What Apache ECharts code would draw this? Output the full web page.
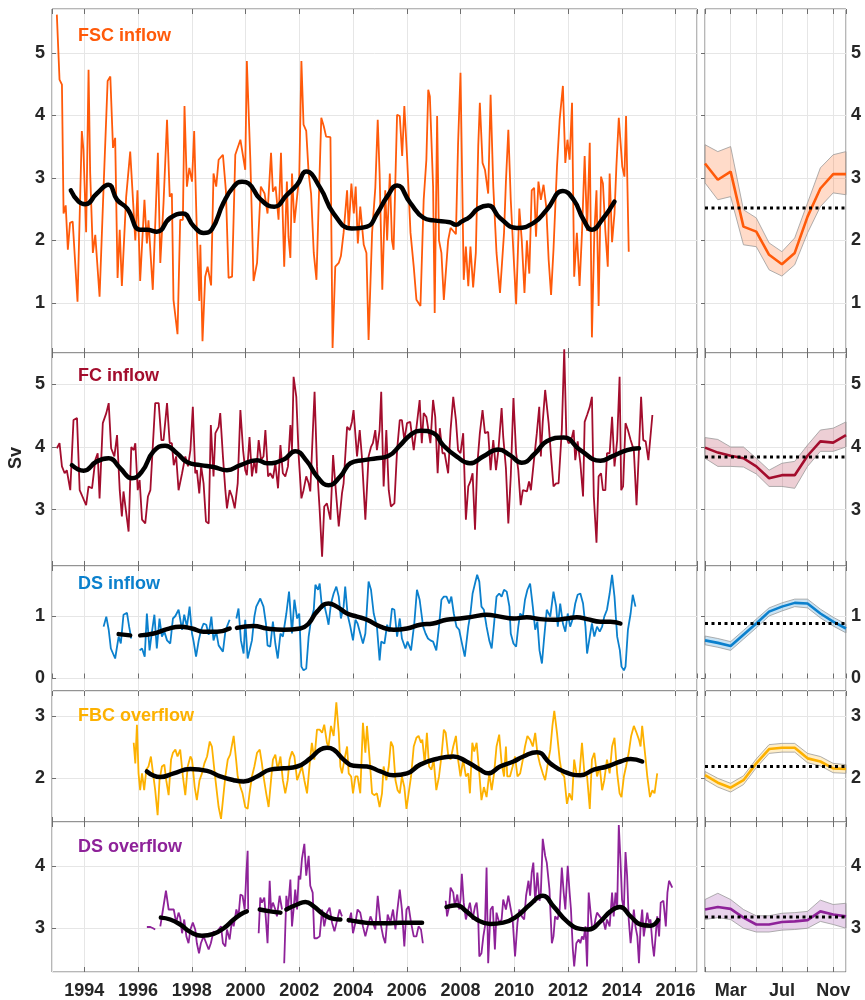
<!DOCTYPE html>
<html><head><meta charset="utf-8">
<script src="https://cdn.jsdelivr.net/npm/echarts@6/dist/echarts.min.js"></script>
<style>html,body{margin:0;padding:0;background:#fff}#c{width:865px;height:1000px}</style>
</head><body><div id="c"></div>
<script>
// ---------------- DATA ----------------
const monthNames = ['Jan','Feb','Mar','Apr','May','Jun','Jul','Aug','Sep','Oct','Nov','Dec'];
const monthIdx = [0,1,2,3,4,5,6,7,8,9,10,11];
const panelNames = ['FSC inflow','FC inflow','DS inflow','FBC overflow','DS overflow'];

const fscInflow = [[1992.98,5.61],[1993.08,4.57],[1993.17,4.49],[1993.23,2.43],[1993.31,2.56],[1993.39,1.85],[1993.47,2.28],[1993.57,2.3],[1993.75,1.02],[1993.91,3.75],[1993.97,3.45],[1994.07,2.13],[1994.16,4.73],[1994.22,3.08],[1994.32,1.8],[1994.41,2.09],[1994.57,1.1],[1994.72,2.86],[1994.87,4.55],[1994.97,4.62],[1995.07,3.48],[1995.15,3.64],[1995.24,1.4],[1995.32,2.17],[1995.4,1.27],[1995.56,2.7],[1995.71,3.42],[1995.9,2.0],[1995.98,2.8],[1996.08,1.35],[1996.24,2.65],[1996.33,1.95],[1996.39,2.32],[1996.55,1.21],[1996.74,3.4],[1996.83,1.64],[1996.95,2.6],[1997.08,3.93],[1997.18,2.7],[1997.26,2.75],[1997.32,1.05],[1997.47,0.5],[1997.57,2.33],[1997.67,2.33],[1997.73,4.15],[1997.82,2.86],[1997.91,3.16],[1998.01,2.94],[1998.09,3.75],[1998.19,2.12],[1998.28,1.03],[1998.32,1.93],[1998.4,0.39],[1998.5,1.42],[1998.59,1.58],[1998.72,1.28],[1998.81,3.07],[1998.91,2.86],[1999.0,3.29],[1999.16,3.37],[1999.27,2.8],[1999.37,1.4],[1999.5,1.42],[1999.62,3.37],[1999.81,3.61],[1999.99,3.13],[2000.05,4.87],[2000.18,3.29],[2000.3,1.35],[2000.43,1.64],[2000.57,2.86],[2000.71,2.75],[2000.82,2.43],[2000.95,3.4],[2001.02,2.78],[2001.12,2.86],[2001.23,2.33],[2001.32,3.4],[2001.44,1.58],[2001.54,2.94],[2001.6,2.06],[2001.67,1.72],[2001.73,3.07],[2001.82,2.28],[2001.92,2.7],[2002.0,3.02],[2002.08,4.87],[2002.16,3.85],[2002.26,3.75],[2002.35,3.07],[2002.44,2.75],[2002.54,1.8],[2002.64,1.37],[2002.72,2.54],[2002.82,3.96],[2002.91,3.83],[2003.0,3.66],[2003.16,3.65],[2003.24,0.28],[2003.34,1.58],[2003.47,1.64],[2003.55,1.75],[2003.65,2.12],[2003.78,2.8],[2003.84,2.17],[2003.94,2.91],[2004.03,2.43],[2004.1,2.86],[2004.18,1.95],[2004.27,2.54],[2004.4,1.93],[2004.5,1.8],[2004.58,0.41],[2004.71,2.12],[2004.83,2.84],[2004.92,3.93],[2004.99,3.07],[2005.09,1.21],[2005.2,2.8],[2005.27,2.0],[2005.37,3.07],[2005.45,2.0],[2005.51,1.85],[2005.64,4.01],[2005.74,3.99],[2005.83,3.35],[2005.91,4.15],[2006.01,3.35],[2006.14,2.12],[2006.26,1.58],[2006.36,1.05],[2006.51,0.95],[2006.63,2.65],[2006.73,3.29],[2006.8,4.41],[2006.86,4.3],[2006.98,2.86],[2007.04,0.84],[2007.13,3.99],[2007.2,2.0],[2007.29,1.8],[2007.38,1.05],[2007.54,2.0],[2007.63,2.2],[2007.73,2.15],[2007.83,2.1],[2007.91,3.55],[2008.0,4.68],[2008.12,1.37],[2008.2,1.9],[2008.29,1.27],[2008.37,1.9],[2008.47,1.25],[2008.57,1.8],[2008.66,3.51],[2008.72,4.2],[2008.82,3.24],[2008.91,3.13],[2009.03,2.75],[2009.12,4.33],[2009.22,2.86],[2009.34,1.8],[2009.47,1.16],[2009.62,2.12],[2009.69,2.94],[2009.78,3.77],[2009.87,2.65],[2009.97,1.8],[2010.07,0.98],[2010.19,2.51],[2010.28,2.0],[2010.38,1.16],[2010.47,2.0],[2010.56,1.47],[2010.65,2.8],[2010.74,2.84],[2010.81,2.06],[2010.9,2.94],[2010.99,2.65],[2011.09,2.89],[2011.19,2.54],[2011.28,1.69],[2011.37,1.13],[2011.46,1.85],[2011.59,3.18],[2011.69,3.93],[2011.81,4.47],[2011.9,3.24],[2011.98,3.61],[2012.06,3.29],[2012.15,4.2],[2012.23,1.42],[2012.33,2.12],[2012.43,1.27],[2012.52,2.12],[2012.62,3.35],[2012.71,2.15],[2012.81,3.56],[2012.89,0.45],[2012.98,2.12],[2013.06,2.8],[2013.14,0.95],[2013.23,3.02],[2013.3,2.91],[2013.39,2.15],[2013.48,1.58],[2013.55,3.07],[2013.64,1.97],[2013.73,2.43],[2013.8,3.18],[2013.89,3.96],[2014.02,3.18],[2014.1,3.02],[2014.16,3.99],[2014.26,1.82]];
const fscSmooth = [[1993.5,2.8],[1993.79,2.62],[1994.04,2.58],[1994.47,2.75],[1994.9,2.89],[1995.22,2.65],[1995.6,2.51],[1996.08,2.17],[1996.33,2.17],[1996.7,2.14],[1997.2,2.36],[1997.67,2.43],[1998.07,2.23],[1998.44,2.12],[1998.75,2.18],[1999.18,2.6],[1999.56,2.86],[1999.87,2.94],[2000.12,2.91],[2000.55,2.66],[2001.07,2.54],[2001.54,2.73],[2001.92,2.89],[2002.26,3.1],[2002.78,2.84],[2003.28,2.43],[2003.96,2.19],[2004.52,2.22],[2004.9,2.43],[2005.27,2.7],[2005.64,2.88],[2006.13,2.6],[2006.63,2.36],[2007.0,2.32],[2007.6,2.29],[2007.83,2.25],[2008.04,2.3],[2008.35,2.38],[2008.66,2.51],[2009.03,2.56],[2009.47,2.36],[2010.1,2.2],[2010.72,2.28],[2011.21,2.49],[2011.81,2.79],[2012.21,2.65],[2012.58,2.33],[2012.89,2.17],[2013.27,2.33],[2013.73,2.62]];

const fcInflow = [[1992.98,3.98],[1993.08,4.06],[1993.17,3.69],[1993.27,3.58],[1993.35,3.63],[1993.48,3.31],[1993.6,4.43],[1993.73,4.46],[1993.83,3.31],[1993.91,3.23],[1994.07,3.07],[1994.16,3.37],[1994.29,3.34],[1994.41,3.79],[1994.5,3.9],[1994.57,3.18],[1994.69,4.38],[1994.82,4.54],[1994.91,4.7],[1995.0,3.98],[1995.12,3.85],[1995.22,4.19],[1995.32,3.31],[1995.4,2.89],[1995.46,3.29],[1995.65,2.65],[1995.75,4.0],[1995.84,3.95],[1995.9,4.06],[1995.99,3.31],[1996.06,3.47],[1996.15,2.84],[1996.27,2.78],[1996.37,3.21],[1996.46,3.31],[1996.64,4.7],[1996.77,4.7],[1996.87,4.11],[1996.95,4.11],[1997.08,4.7],[1997.18,4.06],[1997.26,4.06],[1997.33,3.71],[1997.42,3.85],[1997.51,3.31],[1997.64,3.58],[1997.76,3.85],[1997.86,3.69],[1997.95,3.95],[1998.04,4.64],[1998.13,3.58],[1998.19,3.63],[1998.28,3.26],[1998.35,3.69],[1998.44,3.42],[1998.53,2.81],[1998.63,2.78],[1998.71,4.35],[1998.81,3.53],[1998.88,4.22],[1999.0,4.32],[1999.06,4.54],[1999.16,3.85],[1999.25,3.31],[1999.31,3.02],[1999.41,3.31],[1999.5,3.21],[1999.6,3.02],[1999.71,3.42],[1999.81,4.59],[1999.91,3.95],[1999.99,3.63],[2000.05,3.55],[2000.15,4.16],[2000.24,3.53],[2000.33,3.79],[2000.4,3.58],[2000.49,4.11],[2000.58,3.79],[2000.67,3.85],[2000.74,4.27],[2000.84,3.53],[2000.92,3.58],[2001.02,3.5],[2001.11,3.74],[2001.21,3.34],[2001.3,4.03],[2001.39,3.58],[2001.48,3.53],[2001.58,3.69],[2001.67,4.35],[2001.73,3.95],[2001.79,5.12],[2001.89,4.8],[2001.98,3.85],[2002.08,3.18],[2002.16,3.31],[2002.26,3.53],[2002.35,3.42],[2002.41,3.29],[2002.5,4.19],[2002.57,4.88],[2002.66,3.69],[2002.76,2.99],[2002.85,2.25],[2002.93,3.05],[2003.03,3.1],[2003.16,2.84],[2003.26,3.87],[2003.34,3.42],[2003.47,2.73],[2003.59,3.26],[2003.65,3.42],[2003.78,4.32],[2003.88,4.27],[2003.96,4.4],[2004.02,4.59],[2004.15,3.85],[2004.25,4.27],[2004.33,3.85],[2004.46,2.84],[2004.58,3.85],[2004.67,4.0],[2004.74,4.06],[2004.83,4.27],[2004.89,3.95],[2004.99,4.27],[2005.05,4.88],[2005.14,3.37],[2005.24,4.27],[2005.33,3.31],[2005.41,3.05],[2005.54,3.1],[2005.64,3.95],[2005.74,4.43],[2005.82,4.43],[2005.91,4.11],[2006.01,4.38],[2006.13,4.4],[2006.26,3.95],[2006.38,4.38],[2006.48,4.75],[2006.56,4.06],[2006.63,4.54],[2006.73,4.48],[2006.88,4.06],[2006.98,4.75],[2007.06,4.48],[2007.15,3.58],[2007.23,4.3],[2007.33,3.9],[2007.41,3.9],[2007.54,3.58],[2007.63,4.27],[2007.73,4.8],[2007.83,4.43],[2007.91,3.95],[2008.0,3.9],[2008.1,4.22],[2008.2,2.84],[2008.29,3.37],[2008.37,3.45],[2008.45,3.58],[2008.54,2.68],[2008.62,3.69],[2008.72,4.22],[2008.82,4.59],[2008.91,4.22],[2009.03,4.24],[2009.12,3.63],[2009.22,4.11],[2009.32,3.63],[2009.41,3.95],[2009.53,4.62],[2009.59,4.16],[2009.69,3.66],[2009.78,2.78],[2009.87,3.53],[2009.97,4.78],[2010.07,3.9],[2010.15,3.63],[2010.24,3.07],[2010.32,3.31],[2010.47,3.29],[2010.55,3.45],[2010.62,3.31],[2010.71,3.69],[2010.84,4.22],[2010.93,4.64],[2010.99,3.85],[2011.06,4.4],[2011.15,4.91],[2011.28,4.38],[2011.37,3.85],[2011.46,3.37],[2011.56,3.42],[2011.65,3.42],[2011.77,4.27],[2011.86,5.56],[2011.94,4.16],[2012.02,4.06],[2012.11,4.09],[2012.21,4.27],[2012.27,3.79],[2012.36,4.09],[2012.46,3.74],[2012.56,3.21],[2012.62,4.4],[2012.71,4.51],[2012.81,4.64],[2012.89,4.8],[2012.96,3.21],[2013.06,2.47],[2013.14,3.53],[2013.23,3.58],[2013.3,3.31],[2013.39,3.31],[2013.45,3.9],[2013.55,3.9],[2013.64,4.48],[2013.73,3.69],[2013.83,4.11],[2013.92,5.12],[2013.98,3.31],[2014.05,3.37],[2014.14,4.38],[2014.23,4.27],[2014.33,4.11],[2014.45,3.95],[2014.55,3.07],[2014.64,3.95],[2014.72,4.8],[2014.8,4.11],[2014.89,4.09],[2014.99,3.79],[2015.14,4.51]];
const fcSmooth = [[1993.54,3.71],[1993.98,3.62],[1994.47,3.77],[1994.91,3.82],[1995.34,3.66],[1995.77,3.5],[1996.15,3.61],[1996.58,3.93],[1997.01,4.02],[1997.45,3.9],[1997.82,3.76],[1998.32,3.71],[1998.81,3.68],[1999.31,3.63],[1999.81,3.71],[2000.43,3.79],[2000.8,3.74],[2001.42,3.8],[2001.85,3.93],[2002.29,3.77],[2002.66,3.53],[2003.09,3.39],[2003.53,3.53],[2003.9,3.74],[2004.4,3.79],[2004.89,3.82],[2005.33,3.86],[2005.76,4.03],[2006.13,4.19],[2006.5,4.26],[2007.0,4.22],[2007.35,4.03],[2007.85,3.85],[2008.35,3.74],[2008.85,3.85],[2009.41,3.96],[2009.84,3.87],[2010.28,3.75],[2010.78,3.9],[2011.21,4.09],[2011.84,4.15],[2012.46,3.95],[2013.21,3.78],[2013.64,3.85],[2014.2,3.95],[2014.64,3.98]];

const dsInflow = [[1994.72,0.83],[1994.82,0.99],[1994.91,0.78],[1994.99,0.48],[1995.15,0.32],[1995.28,0.67],[1995.36,0.56],[1995.46,1.02],[1995.59,1.05],[1995.67,0.83],[1995.75,0.64],[1995.9,null],[1996.06,0.45],[1996.15,0.48],[1996.25,0.35],[1996.33,1.04],[1996.43,0.45],[1996.52,0.75],[1996.61,1.02],[1996.7,0.48],[1996.8,0.96],[1996.89,0.67],[1996.98,0.75],[1997.08,0.61],[1997.2,0.56],[1997.3,0.96],[1997.39,1.0],[1997.51,1.1],[1997.64,0.78],[1997.72,1.02],[1997.82,0.83],[1997.92,1.15],[1998.01,0.72],[1998.07,0.59],[1998.16,0.35],[1998.26,0.61],[1998.35,0.78],[1998.44,0.88],[1998.54,0.86],[1998.63,0.7],[1998.73,0.99],[1998.81,0.61],[1998.91,0.75],[1999.0,0.53],[1999.06,0.56],[1999.16,0.43],[1999.25,0.75],[1999.31,0.83],[1999.41,0.94],[1999.55,null],[1999.66,0.96],[1999.74,1.12],[1999.83,0.61],[1999.93,0.4],[1999.99,0.94],[2000.08,0.32],[2000.15,0.35],[2000.24,0.61],[2000.33,0.99],[2000.4,1.15],[2000.55,1.28],[2000.67,1.15],[2000.76,0.88],[2000.82,0.53],[2000.92,0.51],[2001.02,0.91],[2001.11,0.56],[2001.2,0.32],[2001.3,0.72],[2001.39,0.67],[2001.52,1.04],[2001.62,1.39],[2001.73,0.72],[2001.82,1.26],[2001.92,0.96],[2002.0,1.04],[2002.08,0.19],[2002.16,0.13],[2002.26,0.16],[2002.35,0.67],[2002.44,0.94],[2002.54,1.1],[2002.6,1.5],[2002.7,1.42],[2002.76,1.52],[2002.85,1.12],[2002.93,1.18],[2003.03,0.99],[2003.09,0.86],[2003.18,1.2],[2003.28,1.36],[2003.38,1.47],[2003.47,1.31],[2003.55,0.96],[2003.65,1.15],[2003.71,1.47],[2003.8,1.02],[2003.9,0.83],[2004.0,0.61],[2004.09,0.94],[2004.17,0.88],[2004.27,0.72],[2004.37,0.56],[2004.46,0.72],[2004.58,1.55],[2004.67,1.42],[2004.77,1.04],[2004.89,0.83],[2004.99,0.29],[2005.05,0.59],[2005.17,0.56],[2005.27,0.86],[2005.36,0.75],[2005.45,1.12],[2005.54,1.1],[2005.64,0.67],[2005.74,0.96],[2005.82,0.64],[2005.95,0.48],[2006.03,0.59],[2006.16,0.45],[2006.28,0.88],[2006.38,1.42],[2006.48,1.26],[2006.61,0.83],[2006.7,0.72],[2006.79,0.64],[2006.88,0.61],[2006.98,0.59],[2007.1,0.45],[2007.2,0.83],[2007.29,1.26],[2007.38,1.31],[2007.48,1.31],[2007.58,1.2],[2007.66,1.31],[2007.75,1.04],[2007.85,0.83],[2007.95,0.78],[2008.04,0.59],[2008.16,0.35],[2008.29,0.83],[2008.37,1.04],[2008.45,1.36],[2008.54,1.52],[2008.62,1.66],[2008.7,1.55],[2008.78,1.15],[2008.87,1.1],[2008.97,0.83],[2009.07,0.61],[2009.16,0.48],[2009.25,0.88],[2009.34,1.31],[2009.44,1.36],[2009.53,1.31],[2009.62,1.42],[2009.72,1.39],[2009.82,1.15],[2009.87,0.72],[2009.97,0.56],[2010.07,0.51],[2010.15,0.83],[2010.22,1.04],[2010.32,0.99],[2010.4,1.26],[2010.49,1.42],[2010.59,1.52],[2010.69,1.15],[2010.78,0.78],[2010.86,0.91],[2010.94,0.45],[2011.03,0.24],[2011.11,0.64],[2011.21,1.1],[2011.34,0.99],[2011.46,1.39],[2011.56,1.15],[2011.62,0.83],[2011.71,1.2],[2011.81,0.88],[2011.9,0.75],[2011.99,1.04],[2012.08,0.83],[2012.18,0.96],[2012.27,1.2],[2012.36,1.34],[2012.46,1.36],[2012.56,1.2],[2012.65,0.83],[2012.71,0.4],[2012.81,0.67],[2012.89,0.88],[2012.98,0.67],[2013.08,0.83],[2013.18,0.75],[2013.27,0.83],[2013.35,0.99],[2013.45,1.1],[2013.55,1.36],[2013.64,1.66],[2013.73,1.31],[2013.83,0.67],[2013.93,0.45],[2013.99,0.19],[2014.08,0.13],[2014.14,0.19],[2014.23,0.78],[2014.33,1.04],[2014.41,1.34],[2014.51,1.15]];
const dsInflowSmooth = [[1995.28,0.71],[1995.71,0.69],[1995.9,null],[1996.08,0.69],[1996.58,0.72],[1997.08,0.79],[1997.57,0.83],[1998.01,0.8],[1998.44,0.75],[1998.94,0.75],[1999.41,0.8],[1999.55,null],[1999.68,0.81],[2000.3,0.84],[2000.8,0.8],[2001.42,0.78],[2002.04,0.8],[2002.35,0.88],[2002.66,1.07],[2003.09,1.2],[2003.4,1.15],[2003.78,1.04],[2004.15,0.99],[2004.52,0.94],[2005.02,0.83],[2005.51,0.78],[2006.01,0.8],[2006.5,0.86],[2006.98,0.88],[2007.48,0.94],[2007.98,0.96],[2008.47,0.99],[2008.97,1.02],[2009.47,0.99],[2009.97,0.96],[2010.47,0.98],[2010.96,0.95],[2011.46,0.94],[2011.96,0.96],[2012.33,0.98],[2012.71,0.95],[2013.21,0.91],[2013.58,0.91],[2013.95,0.88]];

const fbcOverflow = [[1995.84,2.57],[1995.9,2.24],[1995.96,2.86],[1996.02,2.08],[1996.08,1.81],[1996.15,2.08],[1996.23,1.81],[1996.31,2.14],[1996.39,2.19],[1996.48,2.35],[1996.56,2.08],[1996.64,1.81],[1996.73,1.41],[1996.8,1.97],[1996.89,2.19],[1996.98,2.22],[1997.05,1.97],[1997.14,1.73],[1997.23,2.3],[1997.3,2.41],[1997.39,2.46],[1997.47,2.35],[1997.57,2.46],[1997.67,2.03],[1997.76,1.73],[1997.85,2.19],[1997.95,2.35],[1998.01,2.3],[1998.11,1.86],[1998.19,1.65],[1998.29,1.97],[1998.38,2.08],[1998.47,2.24],[1998.57,2.35],[1998.67,2.59],[1998.75,2.51],[1998.84,2.14],[1998.94,1.76],[1999.0,1.54],[1999.09,1.35],[1999.16,1.65],[1999.25,2.03],[1999.34,2.3],[1999.43,2.38],[1999.56,2.68],[1999.65,2.3],[1999.71,2.03],[1999.81,1.86],[1999.89,1.76],[1999.99,1.54],[2000.08,1.51],[2000.15,1.76],[2000.24,2.03],[2000.33,2.19],[2000.43,2.41],[2000.53,2.46],[2000.61,2.24],[2000.67,2.03],[2000.77,1.76],[2000.86,1.54],[2000.95,1.97],[2001.02,2.3],[2001.11,2.38],[2001.2,2.14],[2001.3,2.35],[2001.39,1.97],[2001.48,1.76],[2001.57,1.97],[2001.64,2.3],[2001.73,2.43],[2001.82,2.35],[2001.92,1.97],[2002.01,2.08],[2002.1,2.19],[2002.19,1.97],[2002.29,1.76],[2002.39,2.24],[2002.47,2.57],[2002.56,2.3],[2002.66,2.78],[2002.76,2.78],[2002.85,2.73],[2002.93,2.86],[2003.03,2.57],[2003.09,2.51],[2003.18,2.84],[2003.28,2.68],[2003.38,3.22],[2003.47,2.73],[2003.53,2.19],[2003.59,2.08],[2003.68,2.3],[2003.78,2.51],[2003.84,2.08],[2003.93,2.03],[2004.0,1.76],[2004.09,2.03],[2004.17,2.03],[2004.27,1.76],[2004.37,2.89],[2004.46,2.41],[2004.52,2.84],[2004.62,2.3],[2004.71,1.76],[2004.79,1.73],[2004.89,1.76],[2004.99,1.54],[2005.08,1.76],[2005.14,2.19],[2005.24,1.97],[2005.33,2.19],[2005.41,2.59],[2005.49,2.51],[2005.58,1.97],[2005.66,1.81],[2005.74,1.76],[2005.82,2.03],[2005.91,1.86],[2005.99,1.51],[2006.07,1.76],[2006.16,2.03],[2006.26,2.51],[2006.36,2.65],[2006.44,2.68],[2006.53,2.57],[2006.58,2.62],[2006.67,2.24],[2006.75,2.73],[2006.83,2.19],[2006.92,2.14],[2007.0,2.3],[2007.1,1.81],[2007.2,2.03],[2007.29,2.35],[2007.38,2.78],[2007.45,2.73],[2007.54,2.38],[2007.63,2.3],[2007.73,2.51],[2007.83,2.68],[2007.91,2.3],[2008.0,2.03],[2008.1,2.3],[2008.2,2.03],[2008.29,2.08],[2008.35,1.76],[2008.44,2.57],[2008.51,2.43],[2008.6,2.57],[2008.7,2.08],[2008.78,1.65],[2008.87,1.86],[2008.97,1.7],[2009.07,2.08],[2009.16,1.81],[2009.25,2.08],[2009.34,2.51],[2009.44,2.7],[2009.53,2.24],[2009.62,2.03],[2009.69,2.51],[2009.74,2.03],[2009.84,2.03],[2009.94,2.19],[2010.03,2.35],[2010.12,2.03],[2010.22,2.08],[2010.32,2.3],[2010.4,2.51],[2010.49,2.68],[2010.59,2.62],[2010.69,2.51],[2010.78,2.73],[2010.86,2.41],[2010.96,2.22],[2011.06,2.08],[2011.15,1.97],[2011.25,2.24],[2011.34,2.46],[2011.42,2.84],[2011.49,3.08],[2011.59,2.73],[2011.69,2.3],[2011.77,2.08],[2011.86,2.03],[2011.96,1.59],[2012.05,1.76],[2012.15,1.65],[2012.23,2.3],[2012.33,2.03],[2012.43,2.08],[2012.52,2.57],[2012.61,2.08],[2012.71,2.03],[2012.81,1.51],[2012.89,2.3],[2012.98,2.41],[2013.08,2.03],[2013.18,2.19],[2013.27,1.81],[2013.35,1.97],[2013.45,2.3],[2013.55,2.08],[2013.64,2.51],[2013.73,2.65],[2013.83,2.08],[2013.92,1.76],[2013.99,1.7],[2014.08,2.03],[2014.16,2.19],[2014.26,2.41],[2014.35,2.68],[2014.45,2.84],[2014.55,2.73],[2014.64,2.62],[2014.7,2.51],[2014.76,2.84],[2014.82,2.86],[2014.89,2.3],[2014.95,2.03],[2015.05,1.7],[2015.14,1.81],[2015.22,1.76],[2015.32,2.08]];
const fbcSmooth = [[1996.33,2.11],[1996.83,2.02],[1997.33,2.08],[1997.95,2.15],[1998.57,2.12],[1999.06,2.03],[1999.56,1.97],[1999.93,1.95],[2000.43,2.03],[2000.92,2.14],[2001.42,2.16],[2001.92,2.19],[2002.41,2.32],[2002.78,2.46],[2003.03,2.49],[2003.28,2.46],[2003.65,2.3],[2004.02,2.2],[2004.52,2.19],[2005.02,2.11],[2005.51,2.05],[2006.01,2.08],[2006.5,2.22],[2007.1,2.31],[2007.73,2.35],[2008.22,2.27],[2008.72,2.14],[2009.03,2.08],[2009.47,2.19],[2009.97,2.27],[2010.34,2.35],[2010.84,2.42],[2011.34,2.24],[2011.84,2.11],[2012.46,2.05],[2012.96,2.14],[2013.45,2.19],[2013.95,2.27],[2014.33,2.31],[2014.76,2.27]];

const dsOverflow = [[1996.33,3.02],[1996.46,3.02],[1996.56,3.0],[1996.64,2.98],[1996.74,null],[1996.83,3.03],[1996.93,3.3],[1997.04,3.6],[1997.14,3.3],[1997.23,3.3],[1997.33,3.3],[1997.42,3.09],[1997.51,3.25],[1997.57,3.17],[1997.64,2.92],[1997.72,3.14],[1997.8,2.87],[1997.88,2.76],[1997.95,2.98],[1998.04,3.09],[1998.13,2.98],[1998.19,2.76],[1998.27,2.6],[1998.34,2.76],[1998.44,2.87],[1998.54,2.76],[1998.63,2.66],[1998.71,2.76],[1998.81,2.95],[1998.91,2.92],[1999.0,2.98],[1999.09,3.03],[1999.16,2.76],[1999.25,2.71],[1999.31,2.98],[1999.41,2.82],[1999.5,3.14],[1999.56,3.03],[1999.66,3.3],[1999.74,3.19],[1999.81,3.54],[1999.89,3.52],[1999.97,3.3],[2000.03,3.87],[2000.08,4.24],[2000.1,3.3],[2000.3,null],[2000.49,2.92],[2000.55,3.49],[2000.61,3.41],[2000.7,3.49],[2000.76,3.14],[2000.82,2.76],[2000.9,3.76],[2000.95,3.3],[2001.02,3.41],[2001.11,3.3],[2001.17,3.19],[2001.27,3.52],[2001.36,3.3],[2001.4,null],[2001.44,2.44],[2001.52,3.52],[2001.58,3.3],[2001.67,3.78],[2001.73,3.03],[2001.79,3.3],[2001.85,3.62],[2001.92,3.3],[2001.98,3.84],[2002.04,3.78],[2002.1,4.11],[2002.19,4.35],[2002.26,3.84],[2002.35,4.16],[2002.41,3.68],[2002.5,3.57],[2002.56,2.84],[2002.66,2.84],[2002.76,2.87],[2002.85,3.3],[2002.93,3.03],[2003.03,3.25],[2003.13,3.33],[2003.22,3.09],[2003.31,2.95],[2003.4,3.11],[2003.5,3.3],[2003.59,3.19],[2003.7,null],[2003.84,3.09],[2003.93,3.25],[2004.0,2.92],[2004.09,3.09],[2004.17,3.3],[2004.27,3.25],[2004.37,3.03],[2004.46,2.87],[2004.55,3.03],[2004.65,3.19],[2004.74,3.09],[2004.83,2.98],[2004.92,3.52],[2005.02,3.09],[2005.12,2.87],[2005.2,2.76],[2005.29,3.22],[2005.39,3.09],[2005.49,3.3],[2005.58,2.98],[2005.64,3.25],[2005.74,3.62],[2005.82,3.3],[2005.91,2.71],[2005.99,3.3],[2006.07,3.35],[2006.16,3.09],[2006.26,2.87],[2006.36,2.87],[2006.44,3.03],[2006.53,2.98],[2006.6,2.76],[2007.0,null],[2007.45,3.44],[2007.5,3.19],[2007.58,3.35],[2007.63,3.65],[2007.73,3.57],[2007.79,3.35],[2007.88,3.54],[2007.95,3.3],[2008.0,3.46],[2008.05,3.87],[2008.12,3.41],[2008.2,3.14],[2008.29,3.3],[2008.35,3.41],[2008.45,3.14],[2008.54,3.35],[2008.6,3.41],[2008.66,3.14],[2008.7,2.55],[2008.78,2.6],[2008.85,2.87],[2008.91,3.03],[2008.97,3.97],[2009.03,2.44],[2009.12,3.3],[2009.2,3.35],[2009.28,2.66],[2009.34,3.25],[2009.44,3.09],[2009.53,3.14],[2009.59,3.46],[2009.69,3.3],[2009.78,3.52],[2009.84,3.52],[2009.94,3.14],[2010.03,2.55],[2010.12,3.09],[2010.19,3.3],[2010.28,3.19],[2010.37,3.14],[2010.44,3.52],[2010.53,3.76],[2010.59,3.52],[2010.65,3.89],[2010.71,4.05],[2010.78,3.41],[2010.86,3.89],[2010.94,3.44],[2010.99,3.57],[2011.06,4.43],[2011.15,4.16],[2011.21,4.05],[2011.31,3.62],[2011.4,2.76],[2011.46,2.87],[2011.52,3.19],[2011.61,3.14],[2011.69,3.3],[2011.77,3.97],[2011.84,3.57],[2011.9,3.3],[2011.99,4.0],[2012.06,3.57],[2012.11,3.3],[2012.18,2.66],[2012.23,2.39],[2012.31,2.76],[2012.4,2.82],[2012.46,2.76],[2012.52,2.87],[2012.58,2.82],[2012.65,3.03],[2012.71,2.39],[2012.77,3.57],[2012.83,3.3],[2012.89,3.03],[2012.96,2.98],[2013.02,3.14],[2013.08,3.25],[2013.18,3.19],[2013.27,3.14],[2013.33,3.09],[2013.39,2.98],[2013.45,3.14],[2013.55,3.03],[2013.64,3.57],[2013.7,3.19],[2013.77,3.57],[2013.83,3.3],[2013.89,4.65],[2013.95,4.11],[2014.01,3.46],[2014.08,3.3],[2014.14,4.22],[2014.2,3.84],[2014.26,3.14],[2014.33,2.76],[2014.39,3.03],[2014.45,3.3],[2014.51,3.03],[2014.58,2.87],[2014.64,2.44],[2014.7,3.03],[2014.76,3.3],[2014.82,2.87],[2014.89,2.87],[2014.95,3.25],[2015.01,3.09],[2015.07,3.14],[2015.14,2.76],[2015.2,2.55],[2015.26,2.87],[2015.32,3.19],[2015.39,2.87],[2015.45,3.41],[2015.55,3.44],[2015.64,3.03],[2015.7,3.57],[2015.76,3.76],[2015.82,3.73],[2015.88,3.65]];
const dsOverflowSmooth = [[1996.85,3.17],[1997.2,3.14],[1997.57,3.06],[1997.95,2.94],[1998.38,2.88],[1998.81,2.91],[1999.19,3.0],[1999.56,3.14],[1999.81,3.22],[2000.05,3.27],[2000.3,null],[2000.53,3.3],[2000.92,3.27],[2001.3,3.25],[2001.4,null],[2001.52,3.3],[2001.92,3.38],[2002.23,3.42],[2002.54,3.35],[2002.91,3.22],[2003.28,3.15],[2003.53,3.14],[2003.7,null],[2003.84,3.13],[2004.27,3.1],[2004.77,3.08],[2005.27,3.08],[2005.76,3.09],[2006.26,3.09],[2006.57,3.09],[2007.0,null],[2007.48,3.34],[2007.85,3.37],[2008.22,3.27],[2008.6,3.14],[2009.1,3.07],[2009.59,3.09],[2010.09,3.19],[2010.59,3.38],[2011.06,3.52],[2011.46,3.35],[2011.96,3.11],[2012.46,2.99],[2012.77,2.98],[2013.21,3.11],[2013.58,3.27],[2013.93,3.34],[2014.33,3.19],[2014.7,3.06],[2015.07,3.04],[2015.35,3.13]];

// Seasonal climatology (Jan..Dec): mean, upper and lower band
const fscClim = [3.23,2.97,3.10,2.22,2.14,1.77,1.62,1.80,2.38,2.83,3.06,3.06];
const fscHi   = [3.53,3.42,3.50,2.49,2.36,1.96,1.82,2.04,2.60,3.16,3.37,3.42];
const fscLo   = [2.92,2.65,2.70,1.93,1.90,1.53,1.43,1.61,2.12,2.54,2.76,2.73];
const fscMean = 2.52;
const fcClim = [3.99,3.91,3.86,3.82,3.69,3.50,3.55,3.55,3.86,4.09,4.07,4.19];
const fcHi   = [4.15,4.12,4.00,4.00,3.82,3.63,3.74,3.77,4.03,4.27,4.30,4.40];
const fcLo   = [3.82,3.69,3.69,3.68,3.57,3.37,3.37,3.34,3.69,3.93,3.93,4.00];
const fcMean = 3.84;
const dsiClim = [0.61,0.57,0.52,0.70,0.88,1.07,1.15,1.21,1.20,1.04,0.91,0.80];
const dsiHi   = [0.68,0.64,0.59,0.77,0.95,1.13,1.21,1.27,1.27,1.11,0.98,0.87];
const dsiLo   = [0.54,0.50,0.45,0.63,0.81,1.00,1.08,1.15,1.13,0.97,0.84,0.73];
const dsiMean = 0.88;
const fbcClim = [2.05,1.93,1.85,1.97,2.24,2.47,2.49,2.49,2.32,2.27,2.16,2.15];
const fbcHi   = [2.11,2.00,1.92,2.04,2.31,2.54,2.56,2.56,2.40,2.35,2.24,2.22];
const fbcLo   = [1.98,1.86,1.78,1.90,2.17,2.40,2.42,2.42,2.25,2.20,2.09,2.08];
const fbcMean = 2.19;
const dsoClim = [3.30,3.34,3.31,3.17,3.06,3.06,3.10,3.11,3.13,3.27,3.22,3.19];
const dsoHi   = [3.46,3.56,3.46,3.30,3.20,3.20,3.24,3.25,3.27,3.45,3.38,3.40];
const dsoLo   = [3.14,3.17,3.14,3.00,2.94,2.94,2.97,2.98,3.00,3.11,3.06,3.00];
const dsoMean = 3.18;

// ---------------- LAYOUT / STYLE ----------------
const FONT = 'Liberation Sans, Arial, Helvetica, sans-serif';
const FRAME = '#6e6e6e', GRIDC = '#e6e6e6', TXT = '#262626';
const panels = [
  {name: panelNames[0], color:'#ff5a0a', band:'rgba(255,90,10,0.22)', yMin:0.2, yMax:5.7, split:5, top:9,   height:344, m:fscInflow,  s:fscSmooth,  c:fscClim, hi:fscHi, lo:fscLo, mean:fscMean, ty:27},
  {name: panelNames[1], color:'#a30d2d', band:'rgba(163,13,45,0.2)',  yMin:2.1, yMax:5.5, split:3, top:353, height:213, m:fcInflow,   s:fcSmooth,   c:fcClim,  hi:fcHi,  lo:fcLo,  mean:fcMean,  ty:367, clip:false},
  {name: panelNames[2], color:'#0b80cd', band:'rgba(11,128,205,0.22)', yMin:-0.2, yMax:1.8, split:2, top:566, height:125, m:dsInflow,  s:dsInflowSmooth, c:dsiClim, hi:dsiHi, lo:dsiLo, mean:dsiMean, ty:575},
  {name: panelNames[3], color:'#fdb100', band:'rgba(253,177,0,0.22)', yMin:1.3, yMax:3.4, split:2, top:691, height:131, m:fbcOverflow, s:fbcSmooth,  c:fbcClim, hi:fbcHi, lo:fbcLo, mean:fbcMean, ty:707},
  {name: panelNames[4], color:'#8e2299', band:'rgba(142,34,153,0.2)', yMin:2.3, yMax:4.7, split:2, top:822, height:151, m:dsOverflow, s:dsOverflowSmooth, c:dsoClim, hi:dsoHi, lo:dsoLo, mean:dsoMean, ty:838}
];

const labelStyle = {color: TXT, fontSize: 18, fontWeight: 'bold', fontFamily: FONT};
const grids = [], xAxes = [], yAxes = [], series = [], titles = [];
const tick = {show:true, inside:true, length:5, lineStyle:{color:FRAME, width:1}};

panels.forEach((p, i) => {
  const last = i === panels.length - 1;
  grids.push({left:52, width:645, top:p.top, height:p.height, show:true, borderColor:FRAME, borderWidth:1, backgroundColor:'rgba(0,0,0,0)'});
  grids.push({left:705, width:141, top:p.top, height:p.height, show:true, borderColor:FRAME, borderWidth:1, backgroundColor:'rgba(0,0,0,0)'});
  const gl = 2*i, gr = 2*i+1;
  const leftX = {type:'value', min:1992.8, max:2016.8, splitNumber:12};
  xAxes.push(Object.assign({gridIndex:gl, position:'bottom', axisLine:{show:false}, axisTick:tick,
    axisLabel:{show:last, showMinLabel:false, showMaxLabel:false, margin:10, ...labelStyle,
      formatter: v => (Math.abs(v - Math.round(v)) < 1e-6 ? String(Math.round(v)) : '')},
    splitLine:{show:true, lineStyle:{color:GRIDC, width:1}}}, leftX));
  xAxes.push(Object.assign({gridIndex:gl, position:'top', axisLine:{show:false}, axisTick:tick, axisLabel:{show:false}, splitLine:{show:false}}, leftX));
  const rightX = {type:'value', min:0, max:11, interval:2};
  xAxes.push(Object.assign({gridIndex:gr, position:'bottom', axisLine:{show:false}, axisTick:tick,
    axisLabel:{show:last, showMaxLabel:false, margin:10, ...labelStyle,
      formatter: v => ((v===2||v===6||v===10) ? monthNames[v] : '')},
    splitLine:{show:true, lineStyle:{color:GRIDC, width:1}}}, rightX));
  xAxes.push(Object.assign({gridIndex:gr, position:'top', axisLine:{show:false}, axisTick:tick, axisLabel:{show:false}, splitLine:{show:false}}, rightX));

  const yBase = {type:'value', min:p.yMin, max:p.yMax, splitNumber:p.split};
  yAxes.push(Object.assign({gridIndex:gl, position:'left', axisLine:{show:false},
    axisTick:{show:true, inside:true, length:4, lineStyle:{color:FRAME}},
    axisLabel:{showMinLabel:false, showMaxLabel:false, margin:7, ...labelStyle},
    splitLine:{show:true, lineStyle:{color:GRIDC, width:1}}}, yBase));
  yAxes.push(Object.assign({gridIndex:gr, position:'right', axisLine:{show:false},
    axisTick:{show:true, inside:true, length:4, lineStyle:{color:FRAME}},
    axisLabel:{showMinLabel:false, showMaxLabel:false, margin:5, ...labelStyle},
    splitLine:{show:true, lineStyle:{color:GRIDC, width:1}}}, yBase));

  const xl = 4*i, xr = 4*i+2, yl = 2*i, yr = 2*i+1;
  series.push({type:'line', xAxisIndex:xl, yAxisIndex:yl, data:p.m, showSymbol:false, connectNulls:false,
    lineStyle:{color:p.color, width:1.8}, itemStyle:{color:p.color}, z:2, clip: p.clip === false ? false : true, silent:true});
  series.push({type:'line', xAxisIndex:xl, yAxisIndex:yl, data:p.s, showSymbol:false, smooth:0.5, connectNulls:false,
    lineStyle:{color:'#000', width:4.5, cap:'round'}, itemStyle:{color:'#000'}, z:3, silent:true});

  // seasonal uncertainty band drawn as a polygon through the axis scales
  series.push({type:'custom', xAxisIndex:xr, yAxisIndex:yr, data:[[0, p.mean]], z:1, silent:true,
    renderItem: (params, api) => {
      const pts = monthIdx.map(k => api.coord([k, p.hi[k]]))
        .concat(monthIdx.slice().reverse().map(k => api.coord([k, p.lo[k]])));
      return {type:'polygon', shape:{points:pts},
        style:{fill:p.band, stroke:'#9a9a9a', lineWidth:0.8}};
    }});
  series.push({type:'line', xAxisIndex:xr, yAxisIndex:yr, data:[[0,p.mean],[11,p.mean]], showSymbol:false,
    lineStyle:{color:'#000', width:3, type:[3,3.5]}, z:4, silent:true});
  series.push({type:'line', xAxisIndex:xr, yAxisIndex:yr, data:monthIdx.map(k => [k, p.c[k]]), showSymbol:false,
    lineStyle:{color:p.color, width:2.6}, z:3, silent:true});

  titles.push({text:p.name, left:78, top:p.ty, padding:0,
    textStyle:{color:p.color, fontSize:18, fontWeight:'bold', fontFamily:FONT}});
});

const chart = echarts.init(document.getElementById('c'), null, {renderer:'canvas'});
chart.setOption({
  animation:false,
  backgroundColor:'#ffffff',
  textStyle:{fontFamily:FONT},
  title:titles,
  grid:grids, xAxis:xAxes, yAxis:yAxes, series:series,
  graphic:[{type:'text', x:16, y:458, rotation:Math.PI/2,
    style:{text:'Sv', fill:TXT, font:'bold 18px ' + FONT, align:'center', verticalAlign:'middle'}}]
});
</script></body></html>
